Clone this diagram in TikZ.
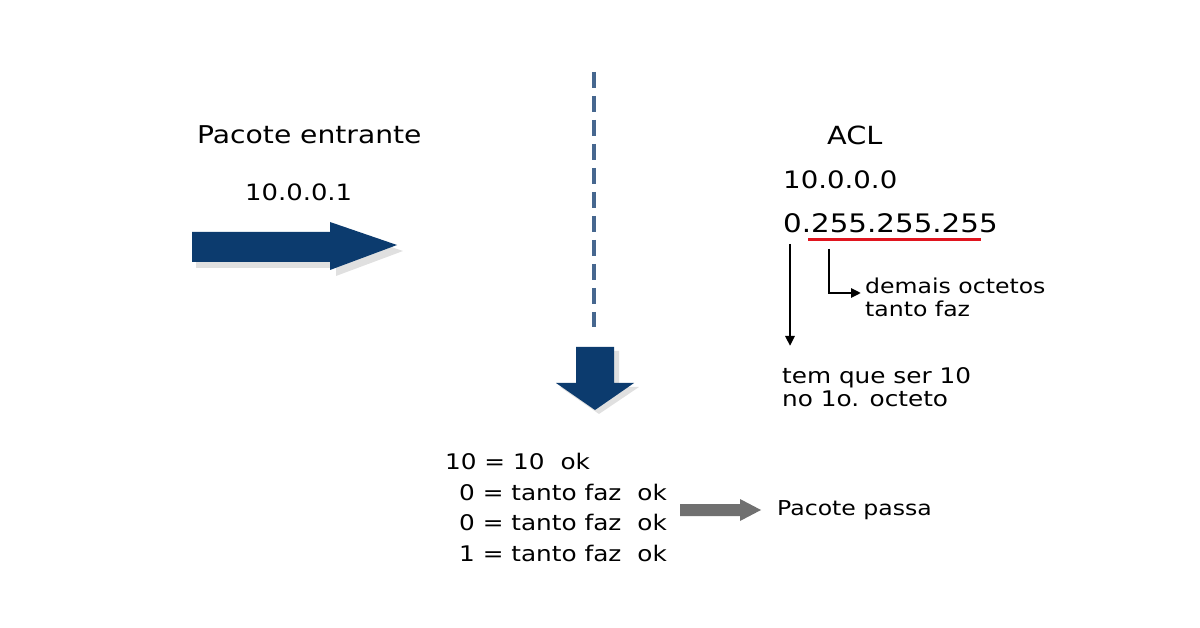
\documentclass[tikz,border=0pt]{standalone}
\usepackage{fontspec}
\setmainfont{DejaVu Sans}[FakeStretch=1.15]
\usetikzlibrary{arrows.meta}
\definecolor{navy}{HTML}{0C3B6E}
\definecolor{dashblue}{HTML}{46678F}
\definecolor{arrgray}{HTML}{707070}
\definecolor{redline}{HTML}{E0141E}
\newcommand{\fs}[1]{\fontsize{#1}{#1}\selectfont}
\tikzset{
  lbl/.style={anchor=west, inner sep=0pt, font=\fs{21.5}},
  thinarrow/.style={draw=black, line width=2.5pt, -{Triangle[length=10pt,width=9pt]}},
}
\begin{document}
\begin{tikzpicture}[x=1pt,y=-1pt]
\useasboundingbox[fill=white] (0,0) rectangle (1200,628);
% big right arrow with shadow
\fill[black,opacity=0.12] (196,238) -- (336,238) -- (336,228) -- (403,251) -- (336,276) -- (336,268) -- (196,268) -- cycle;
\fill[navy] (192,232) -- (330,232) -- (330,222) -- (397,245) -- (330,270) -- (330,262) -- (192,262) -- cycle;
% dashed line
\draw[dashblue, line width=4pt, dash pattern=on 16pt off 8pt] (594,72) -- (594,327);
% down arrow with shadow
\fill[black,opacity=0.12] (581,351) -- (619,351) -- (619,387) -- (639,387) -- (599,414) -- (560,387) -- (581,387) -- cycle;
\fill[navy] (576,347) -- (614,347) -- (614,383) -- (634,383) -- (595,410) -- (556,383) -- (576,383) -- cycle;
% texts left
\node[lbl, font=\fs{24.5}] (pe) at (197,135) {Pacote entrante};
\node[lbl, font=\fs{22.5}] (ip) at (245,192) {10.0.0.1};
% ACL
\node[lbl, font=\fs{25}] (acl) at (827,135) {ACL};
\node[lbl, font=\fs{24}] (net) at (783,180) {10.0.0.0};
\node[lbl, font=\fs{25.5}] (mask) at (783,223) {0.255.255.255};
\draw[redline, line width=3pt] (808,240) -- (981,240);
\coordinate (c1) at (790,244);
\coordinate (c2) at (829,249);
\node[lbl, font=\fs{20.5}] (dem) at (865,286) {demais octetos};
\node[lbl, font=\fs{20.5}] (tf) at (865,309) {tanto faz};
\node[lbl, font=\fs{21.5}] (tem) at (782,378) {tem que ser 10};
\node[lbl, font=\fs{21.5}] (no) at (782,399) {no 1o. octeto};
\draw[thinarrow] (c1) -- (790,346);
\draw[thinarrow] (c2) |- ([xshift=-4pt]dem.west |- 0,293);
% bottom block
\node[lbl] (r1) at (445,461) {10 = 10\hspace{16pt}ok};
\node[lbl] (r2) at (459,492) {0 = tanto faz\hspace{16pt}ok};
\node[lbl] (r3) at (459,522) {0 = tanto faz\hspace{16pt}ok};
\node[lbl] (r4) at (459,553) {1 = tanto faz\hspace{16pt}ok};
\fill[arrgray] (680,504) -- (740,504) -- (740,499) -- (761,510) -- (740,521) -- (740,516) -- (680,516) -- cycle;
\node[lbl, font=\fs{20.5}] (pp) at (777,510) {Pacote passa};
\end{tikzpicture}
\end{document}
